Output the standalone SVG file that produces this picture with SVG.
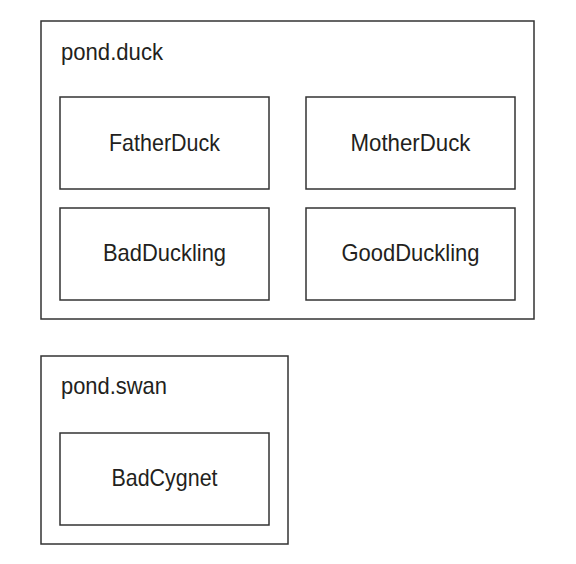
<svg xmlns="http://www.w3.org/2000/svg" width="576" height="564" viewBox="0 0 576 564">
<style>
rect{fill:#fff;stroke:#333;stroke-width:1.5}
text{font-family:"Liberation Sans Narrow","Liberation Sans",Arial,sans-serif;font-size:24px;fill:#231f20}
.c{text-anchor:middle}
</style>
<rect x="0" y="0" width="576" height="564" style="stroke:none"/>
<g id="pond.duck">
<rect x="41" y="21" width="493" height="298"/>
<text x="61" y="60" textLength="102" lengthAdjust="spacingAndGlyphs">pond.duck</text>
</g>
<g id="FatherDuck">
<rect x="60" y="97" width="209" height="92"/>
<text class="c" x="164.5" y="151" textLength="111" lengthAdjust="spacingAndGlyphs">FatherDuck</text>
</g>
<g id="MotherDuck">
<rect x="306" y="97" width="209" height="92"/>
<text class="c" x="410.5" y="151" textLength="120" lengthAdjust="spacingAndGlyphs">MotherDuck</text>
</g>
<g id="BadDuckling">
<rect x="60" y="208" width="209" height="92"/>
<text class="c" x="164.5" y="261" textLength="123" lengthAdjust="spacingAndGlyphs">BadDuckling</text>
</g>
<g id="GoodDuckling">
<rect x="306" y="208" width="209" height="92"/>
<text class="c" x="410.5" y="261" textLength="138" lengthAdjust="spacingAndGlyphs">GoodDuckling</text>
</g>
<g id="pond.swan">
<rect x="41" y="356" width="247" height="188"/>
<text x="61" y="394" textLength="106" lengthAdjust="spacingAndGlyphs">pond.swan</text>
</g>
<g id="BadCygnet">
<rect x="60" y="433" width="209" height="92"/>
<text class="c" x="164.5" y="486" textLength="106" lengthAdjust="spacingAndGlyphs">BadCygnet</text>
</g>
<g id="connectors"/>
</svg>
